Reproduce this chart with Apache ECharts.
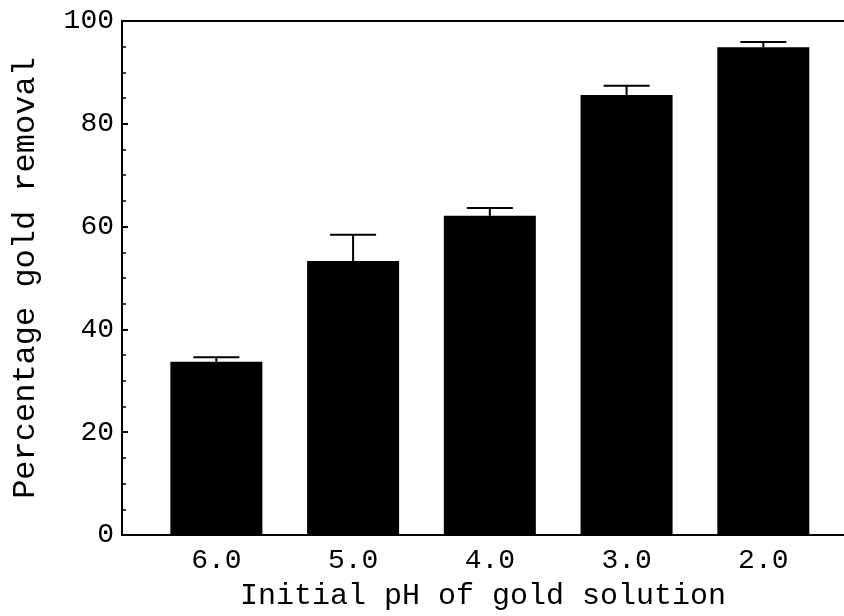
<!DOCTYPE html>
<html>
<head>
<meta charset="utf-8">
<style>
  html, body { margin: 0; padding: 0; background: #fff; }
  #chart { width: 844px; height: 616px; }
</style>
<script src="https://cdn.jsdelivr.net/npm/echarts@6/dist/echarts.min.js"></script>
</head>
<body>
<div id="chart"></div>
<script>
// pH values (x positions) and percentage gold removal
const phValues = [6.0, 5.0, 4.0, 3.0, 2.0];
const removal = [33.7, 53.3, 62.1, 85.6, 94.9];
const errorUp = [0.9, 5.1, 1.5, 1.8, 1.0];
const yTicks = [0, 20, 40, 60, 80, 100];

const font = "'Liberation Mono', 'DejaVu Sans Mono', monospace";
const chart = echarts.init(document.getElementById("chart"));

const barData = phValues.map((x, i) => [x, removal[i]]);
const errData = phValues.map((x, i) => [x, removal[i], removal[i] + errorUp[i]]);

chart.setOption({
  animation: false,
  backgroundColor: "#fff",
  grid: { left: 122, right: 0, top: 21, bottom: 81 },
  xAxis: [
    {
      type: "value",
      inverse: true,
      min: 1.41,
      max: 6.69,
      name: "Initial pH of gold solution",
      nameLocation: "middle",
      nameGap: 46,
      nameTextStyle: { fontFamily: font, fontSize: 30, color: "#000" },
      axisLine: { lineStyle: { color: "#000", width: 2 } },
      axisTick: { show: false },
      splitLine: { show: false },
      axisLabel: {
        customValues: phValues,
        formatter: (v) => v.toFixed(1),
        fontFamily: font,
        fontSize: 28,
        color: "#000",
        margin: 12
      }
    },
    {
      type: "value",
      position: "top",
      inverse: true,
      min: 1.41,
      max: 6.69,
      axisLine: { show: true, lineStyle: { color: "#000", width: 2 } },
      axisTick: { show: false },
      axisLabel: { show: false },
      splitLine: { show: false }
    }
  ],
  yAxis: {
    type: "value",
    min: 0,
    max: 100,
    interval: 20,
    name: "Percentage gold removal",
    nameLocation: "middle",
    nameGap: 80,
    nameTextStyle: { fontFamily: font, fontSize: 32, color: "#000" },
    axisLine: { show: true, lineStyle: { color: "#000", width: 2 } },
    axisTick: { show: true, inside: true, length: 6, lineStyle: { color: "#000", width: 2 } },
    minorTick: { show: true, splitNumber: 4, length: 4, lineStyle: { color: "#000", width: 1.5 } },
    splitLine: { show: false },
    axisLabel: {
      customValues: yTicks,
      fontFamily: font,
      fontSize: 28,
      color: "#000",
      margin: 8
    }
  },
  series: [
    {
      type: "bar",
      data: barData,
      barWidth: 92,
      itemStyle: { color: "#000" }
    },
    {
      type: "custom",
      data: errData,
      z: 3,
      renderItem: (params, api) => {
        const base = api.coord([api.value(0), api.value(1)]);
        const top = api.coord([api.value(0), api.value(2)]);
        const half = 23;
        const style = { stroke: "#000", lineWidth: 2 };
        return {
          type: "group",
          children: [
            { type: "line", shape: { x1: base[0], y1: base[1], x2: top[0], y2: top[1] }, style },
            { type: "line", shape: { x1: top[0] - half, y1: top[1], x2: top[0] + half, y2: top[1] }, style }
          ]
        };
      }
    }
  ]
});
</script>
</body>
</html>
